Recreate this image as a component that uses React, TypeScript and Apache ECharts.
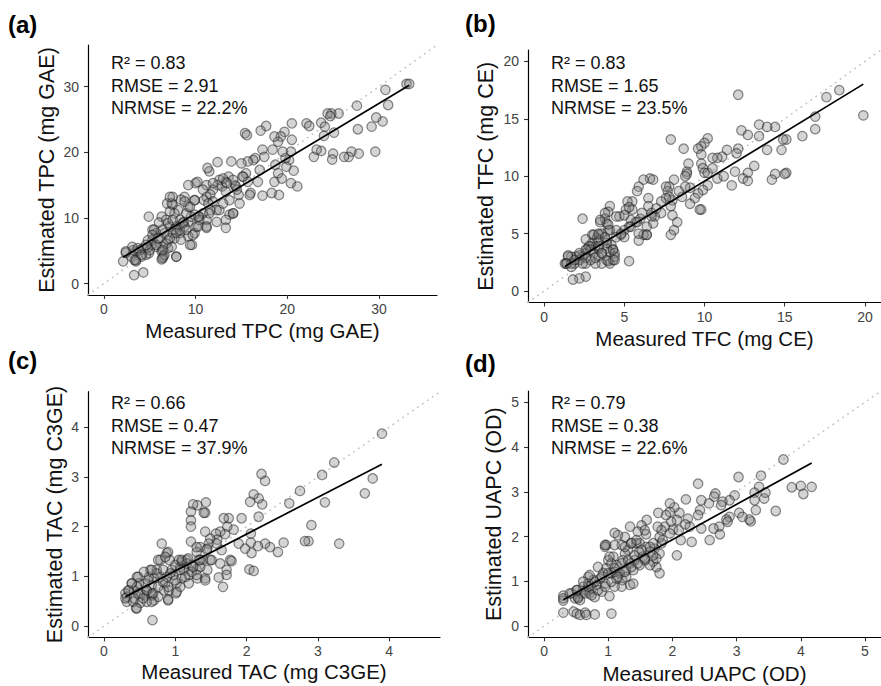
import { useEffect, useRef } from "react";
import * as echarts from "echarts";

// ---------- DATA ----------
const tpcPoints: number[][] = [
  [33.0,30.4],[33.3,30.4],[30.7,29.5],[31.0,27.2],[30.4,24.7],[29.7,25.3],[29.2,23.9],[29.6,20.1],[27.7,23.5],[27.6,27.1],
  [27.8,19.8],[27.0,20.1],[26.7,19.3],[26.2,19.3],[25.6,25.9],[24.8,25.9],[24.4,25.9],[24.7,25.5],[23.7,24.5],[24.1,23.9],
  [25.1,23.0],[24.0,22.5],[25.0,19.8],[24.9,18.9],[23.7,20.2],[22.9,19.3],[23.2,20.4],[22.1,24.4],[22.4,24.0],[20.5,24.4],
  [20.5,21.9],[20.4,20.1],[20.2,18.8],[20.4,15.3],[21.1,14.8],[20.7,17.2],[19.9,17.8],[19.8,19.1],[19.5,20.1],[19.7,23.1],
  [19.3,22.4],[19.0,21.6],[18.6,22.4],[18.4,20.4],[18.7,18.1],[19.0,16.8],[18.6,15.5],[19.4,16.0],[19.1,13.5],[18.3,13.8],
  [17.7,24.0],[17.1,23.3],[17.3,20.4],[17.5,19.3],[17.0,17.3],[16.5,19.1],[16.3,18.8],[16.8,15.5],[17.3,13.4],[15.4,22.9],
  [15.6,22.6],[15.7,18.6],[15.0,18.3],[15.5,16.8],[15.1,16.3],[15.7,15.5],[16.0,13.8],[14.7,13.5],[14.8,12.2],[13.9,18.6],
  [12.4,18.5],[14.3,15.0],[13.6,16.3],[13.3,15.5],[12.9,14.8],[13.3,14.0],[13.7,12.7],[14.1,10.7],[13.7,10.5],[13.3,9.7],
  [13.3,8.5],[12.6,15.8],[12.4,15.0],[11.9,14.3],[11.5,17.1],[11.3,17.6],[11.2,15.0],[11.6,13.6],[11.2,13.2],[10.9,12.7],
  [11.9,12.5],[12.3,11.2],[11.6,11.2],[11.2,9.7],[11.2,8.5],[10.8,10.7],[10.4,10.2],[10.0,15.3],[10.2,15.5],[9.9,12.7],
  [9.9,10.5],[9.2,15.0],[9.9,7.7],[9.2,7.2],[8.8,13.2],[8.4,12.8],[8.1,11.2],[7.5,13.2],[7.5,12.0],[7.7,10.7],
  [8.3,9.7],[8.7,9.4],[9.2,9.4],[9.6,5.9],[6.9,12.2],[7.2,11.0],[6.3,10.2],[6.0,9.3],[6.8,9.7],[7.2,8.7],
  [7.9,8.7],[7.5,7.7],[8.3,7.7],[7.7,6.9],[7.0,6.6],[7.9,4.1],[6.6,7.7],[5.7,7.7],[6.1,6.9],[5.3,8.2],
  [5.3,6.6],[6.4,5.6],[5.7,5.6],[6.3,4.9],[6.5,4.1],[6.3,3.7],[6.6,4.4],[4.9,10.2],[4.8,6.6],[5.2,5.9],
  [4.9,4.6],[4.3,5.4],[4.6,4.4],[4.1,4.1],[3.9,5.1],[3.5,4.9],[3.2,5.1],[3.0,4.1],[2.4,4.7],[2.1,3.4],
  [3.5,3.6],[3.5,3.4],[3.3,1.3],[4.3,1.7],[3.1,5.6],[4.8,5.5],[7.0,5.4],[6.8,6.1],[7.7,8.2],[8.3,8.2],
  [8.8,8.7],[10.1,8.7],[10.4,9.7],[9.5,10.2],[9.0,10.7],[9.2,11.7],[10.8,14.3],[13.0,16.0],[14.1,15.8],[14.4,14.8],
  [2.4,4.9],[3.35,3.6],[4.1,4.4],[5.0,5.1],[5.7,5.9],[6.4,3.9],[6.4,5.1],[7.4,5.6],[7.9,4.1],[7.2,6.9],
  [7.9,7.7],[8.4,6.7],[9.0,8.2],[9.7,7.4],[9.4,5.9],[6.4,8.2],[5.5,8.2],[5.3,7.4],[5.9,6.9],[7.0,9.2],
  [7.5,9.7],[8.6,9.2],[10.3,8.7],[7.4,12.2],[7.2,13.2],[8.8,12.5],[9.9,12.7],[11.4,12.2],[11.5,10.7],[12.6,11.2],
  [11.2,8.7],[12.3,9.4],[9.4,11.7],[10.3,10.2],[13.4,15.3],[14.5,14.3],[15.2,16.3],[11.9,15.3],[13.0,12.2],[14.1,10.7],
  [15.9,13.5],[4.6,5.9],[3.7,5.4],
];

const tfcPoints: number[][] = [
  [19.9,15.3],[18.4,17.5],[17.6,16.9],[16.9,15.2],[16.9,14.1],[16.1,13.5],[12.1,17.1],[15.1,13.2],[14.9,13.2],[14.8,12.3],
  [15.1,10.3],[15.0,10.2],[14.4,10.2],[14.2,9.7],[14.4,14.3],[13.9,14.3],[13.4,14.5],[13.4,13.5],[13.9,12.3],[13.1,10.9],
  [12.7,13.6],[12.3,14.0],[12.1,12.4],[12.0,12.0],[11.9,10.4],[11.7,9.2],[11.4,12.3],[12.7,10.3],[12.4,9.8],[12.7,9.6],
  [11.1,11.7],[10.8,11.6],[10.5,11.6],[10.2,13.3],[10.0,12.9],[9.8,12.6],[9.6,12.4],[9.8,11.9],[9.8,11.1],[9.9,10.7],
  [10.0,10.3],[10.2,10.3],[10.5,10.7],[10.8,9.8],[11.2,10.0],[10.2,9.2],[9.9,8.8],[9.6,8.5],[9.8,7.1],[9.7,7.1],
  [9.4,8.1],[9.0,11.1],[8.9,10.4],[8.9,10.2],[8.8,10.0],[8.7,12.4],[9.1,9.0],[8.8,9.1],[9.1,7.6],[8.6,8.2],
  [8.4,8.7],[7.9,13.2],[8.1,9.7],[7.8,9.1],[7.7,8.7],[7.8,8.2],[8.0,7.9],[7.9,7.4],[8.0,6.6],[8.1,5.3],
  [7.9,4.9],[8.3,6.0],[7.6,9.1],[7.6,8.1],[7.3,7.8],[7.3,6.8],[6.8,9.7],[6.6,9.8],[6.2,9.7],[5.9,9.1],
  [5.8,8.7],[6.5,8.1],[6.5,7.4],[6.7,6.8],[6.9,6.5],[6.8,5.9],[6.4,5.6],[6.4,4.9],[6.2,4.9],[5.9,4.4],
  [6.0,6.3],[5.7,6.0],[5.5,7.8],[5.5,7.1],[5.2,7.8],[5.1,7.1],[5.4,6.2],[5.3,5.6],[5.0,5.3],[4.7,6.5],
  [4.8,4.9],[5.0,4.7],[4.5,5.3],[5.3,2.6],[4.1,7.4],[4.0,6.9],[3.8,6.3],[3.5,6.0],[3.9,5.9],[4.0,5.3],
  [3.6,5.0],[3.4,4.9],[3.0,4.9],[3.3,4.6],[3.9,4.4],[4.2,4.0],[4.3,3.6],[4.1,3.4],[4.4,3.3],[3.9,3.7],
  [3.6,3.3],[3.4,3.7],[3.2,3.9],[2.9,3.9],[2.7,3.7],[2.6,3.3],[3.1,3.3],[3.4,3.0],[3.9,2.7],[4.1,2.4],
  [3.6,2.4],[3.2,2.4],[2.9,2.7],[2.4,3.0],[2.2,3.1],[2.4,6.3],[2.0,3.0],[2.2,2.7],[1.9,2.4],[1.7,3.0],
  [1.5,3.0],[1.4,2.4],[1.3,2.4],[1.7,2.4],[2.6,2.4],[4.3,2.7],[4.4,3.0],[2.6,1.25],[2.2,1.1],[1.8,1.0],
  [3.0,4.2],[3.4,4.4],[2.6,4.5],[2.8,3.9],
  [1.4,2.4],[1.5,3.1],[1.9,2.7],[2.2,3.3],[2.6,2.9],[2.4,2.4],[2.9,3.6],[3.2,2.9],[3.4,3.9],[3.6,3.3],
  [4.0,2.6],[3.9,4.2],[4.3,3.6],[4.4,2.7],[3.1,4.9],[3.4,5.0],[3.8,4.7],[4.1,5.3],[4.5,4.7],[4.8,5.0],
  [3.5,6.2],[4.0,5.8],[3.8,6.8],[5.0,6.6],[5.4,5.6],[5.9,5.0],[5.8,6.0],[6.4,4.9],[6.1,6.8],[6.7,6.5],
  [7.0,7.2],[5.3,7.3],[4.5,6.5],[2.6,3.6],[1.7,2.1],
];

const tacPoints: number[][] = [
  [3.90,3.87],[3.23,3.29],[3.06,3.04],[3.10,2.49],[3.77,2.97],[3.66,2.67],[2.91,2.03],[3.30,1.66],[2.87,1.71],[2.82,1.71],
  [2.75,2.72],[2.60,2.47],[2.52,1.68],[2.44,1.49],[2.33,1.59],[2.26,1.66],[2.16,1.61],[2.17,2.20],[2.22,2.45],[2.17,2.57],
  [2.10,2.65],[2.05,2.50],[2.21,3.06],[2.26,2.92],[2.06,1.86],[2.06,1.68],[2.07,1.47],[1.98,1.56],[1.89,1.66],[1.93,2.17],
  [2.04,1.14],[2.10,1.11],[1.82,1.94],[1.75,2.17],[1.68,2.17],[1.73,2.00],[1.70,1.85],[1.63,1.90],[1.57,1.86],[1.59,1.74],
  [1.49,1.76],[1.47,1.66],[1.43,2.49],[1.42,2.28],[1.40,2.28],[1.31,2.43],[1.25,2.45],[1.22,2.30],[1.22,2.13],[1.22,2.00],
  [1.22,1.70],[1.42,1.90],[1.45,1.56],[1.35,1.59],[1.30,1.49],[1.39,1.33],[1.49,1.33],[1.33,1.33],[1.65,1.53],[1.77,1.33],
  [1.79,1.31],[1.63,1.26],[1.72,1.13],[1.72,1.03],[1.61,0.98],[1.67,0.79],[1.42,0.96],[1.31,0.96],[1.30,1.14],[1.23,1.23],
  [1.16,1.33],[1.09,1.29],[1.05,1.33],[1.07,1.19],[1.12,1.13],[1.19,1.03],[1.09,0.96],[1.02,0.86],[1.01,0.66],[0.95,1.13],
  [0.92,1.33],[0.88,1.47],[0.90,1.49],[0.81,1.66],[0.79,1.33],[0.74,1.13],[0.79,0.99],[0.86,0.86],[0.84,0.72],[0.90,0.54],
  [0.70,0.96],[0.67,0.82],[0.63,0.99],[0.58,0.86],[0.60,0.72],[0.67,0.66],[0.70,0.52],[0.67,0.62],[0.56,0.62],[0.51,0.66],
  [0.46,0.99],[0.49,0.86],[0.42,0.72],[0.35,0.72],[0.32,0.59],[0.30,0.66],[0.32,0.49],[0.45,0.36],[0.42,0.56],[0.51,0.47],
  [0.60,0.49],[0.68,0.12],[0.76,0.59],[0.91,0.72],[0.97,1.03],[1.07,0.79],[1.19,0.86],[1.23,1.09],[1.35,1.19],[1.45,1.13],
  [1.51,1.33],[1.16,1.26],[1.00,1.23],[0.65,1.13],[0.56,1.09],[0.39,0.86],[0.46,0.79],[0.88,0.99],[1.44,1.54],[1.58,1.66],
  [1.30,1.59],
  [0.30,0.56],[0.34,0.72],[0.41,0.49],[0.48,0.66],[0.46,0.36],[0.55,0.56],[0.60,0.72],[0.67,0.49],[0.69,0.66],[0.76,0.79],
  [0.62,0.92],[0.48,0.99],[0.74,1.06],[0.83,0.89],[0.90,0.79],[0.83,1.13],[0.93,1.06],[1.00,0.92],[1.02,0.69],[0.90,0.52],
  [1.07,1.13],[1.14,0.99],[1.09,1.33],[1.18,1.36],[1.25,1.19],[1.35,1.33],[1.30,1.03],[0.76,1.33],[0.67,1.13],[0.39,0.86],
  [0.86,1.39],[1.42,0.92],
];

const uapcPoints: number[][] = [
  [3.73,3.72],[4.17,3.11],[4.00,3.13],[4.04,2.95],[3.86,3.10],[3.61,2.57],[3.38,3.36],[3.35,3.11],[3.43,2.85],[3.45,2.98],
  [3.28,2.98],[3.28,2.81],[3.30,2.59],[3.22,2.34],[3.20,2.38],[3.03,3.33],[2.97,2.92],[2.89,2.81],[3.04,2.53],[3.09,2.44],
  [2.89,2.44],[2.84,2.38],[2.86,2.33],[2.78,2.78],[2.76,2.70],[2.67,2.96],[2.65,2.89],[2.73,2.22],[2.74,2.05],[2.64,2.18],
  [2.58,1.92],[2.57,2.74],[2.45,2.81],[2.40,3.18],[2.43,2.59],[2.45,2.18],[2.40,2.48],[2.30,1.88],[2.21,2.83],[2.24,2.40],
  [2.27,2.22],[2.11,2.53],[2.07,2.37],[2.03,2.65],[1.96,2.55],[1.98,2.33],[2.01,2.16],[2.10,2.14],[2.07,1.58],[2.13,1.92],
  [1.96,2.07],[1.88,2.22],[1.90,2.48],[1.83,2.14],[1.83,1.85],[1.78,2.53],[1.80,1.99],[1.72,1.73],[1.80,1.62],[1.80,1.18],
  [1.75,1.32],[1.70,1.44],[1.65,1.36],[1.59,2.05],[1.60,2.37],[1.52,2.25],[1.46,2.11],[1.44,1.85],[1.48,1.66],[1.54,1.55],
  [1.57,1.47],[1.49,1.36],[1.41,1.47],[1.34,2.22],[1.36,1.85],[1.31,1.70],[1.26,1.99],[1.21,1.81],[1.26,1.62],[1.34,1.40],
  [1.28,1.25],[1.23,1.47],[1.15,2.03],[1.10,2.08],[1.08,1.55],[1.13,1.36],[1.18,1.18],[1.22,1.03],[1.34,0.92],[1.21,0.88],
  [1.10,0.88],[1.02,0.67],[1.05,0.28],[0.97,1.81],[0.95,1.77],[1.00,1.47],[0.97,1.29],[0.92,1.18],[0.84,1.32],[0.87,1.06],
  [0.95,0.95],[0.82,0.92],[0.77,1.03],[0.74,0.84],[0.69,0.95],[0.66,0.80],[0.61,0.88],[0.58,0.73],[0.51,0.80],[0.53,0.65],
  [0.48,0.62],[0.56,0.58],[0.43,0.73],[0.30,0.68],[0.30,0.57],[0.30,0.30],[0.46,0.32],[0.51,0.28],[0.56,0.25],[0.64,0.30],
  [0.66,0.25],[0.79,0.26],[0.71,0.73],[0.79,0.65],[0.69,1.10],[0.90,0.77],[1.13,1.06],[1.05,1.18],[1.05,1.40],[1.10,1.21],
  [1.28,1.10],[1.39,1.25],[1.39,0.95],[1.59,1.77],[1.70,1.85],[1.49,1.85],[1.65,1.66],[1.75,1.51],[1.96,2.74],[2.20,2.27],
  [0.30,0.62],[0.40,0.73],[0.51,0.80],[0.53,0.62],[0.64,0.73],[0.69,0.88],[0.74,0.69],[0.79,0.99],[0.84,0.80],[0.90,1.10],
  [0.95,0.88],[1.00,1.18],[1.05,0.99],[1.10,1.29],[1.15,1.10],[1.21,1.40],[1.26,1.21],[1.31,1.47],[1.36,1.32],[1.41,1.58],
  [1.46,1.40],[1.52,1.70],[1.57,1.51],[1.65,1.77],[1.70,1.58],[1.26,1.77],[1.36,1.85],[1.44,1.92],[1.10,1.81],[0.95,1.81],
  [1.02,1.55],[0.71,1.14],[0.61,0.99],[1.57,2.14],[1.77,2.22],[1.85,1.92],
];

const panelTags = ["(a)", "(b)", "(c)", "(d)"];
const xTitles = ["Measured TPC (mg GAE)", "Measured TFC (mg CE)", "Measured TAC (mg C3GE)", "Measured UAPC (OD)"];
const yTitles = ["Estimated TPC (mg GAE)", "Estimated TFC (mg CE)", "Estimated TAC (mg C3GE)", "Estimated UAPC (OD)"];
const r2Values = ["0.83", "0.83", "0.66", "0.79"];
const rmseValues = ["2.91", "1.65", "0.47", "0.38"];
const nrmseValues = ["22.2%", "23.5%", "37.9%", "22.6%"];
const axisLimits = [[0, 34.6], [0, 20], [0, 4.49], [0, 5]];
const tickValues = [[0, 10, 20, 30], [0, 5, 10, 15, 20], [0, 1, 2, 3, 4], [0, 1, 2, 3, 4, 5]];
const fitSlopes = [0.839, 0.854, 0.741, 0.79];
const fitIntercepts = [2.27, 1.03, 0.368, 0.35];

const allPoints = [tpcPoints, tfcPoints, tacPoints, uapcPoints];

// ---------- LAYOUT ----------
const grids = [
  { left: 88, top: 45, width: 349, height: 250 },
  { left: 528, top: 50, width: 356, height: 252.5 },
  { left: 88, top: 391.7, width: 352, height: 245.6 },
  { left: 528, top: 391, width: 354, height: 246.3 },
];
const xNameGaps = [24.5, 25, 24, 25.5];
const yNameGaps = [30, 31, 22, 23.5];
const tagPos = [[8, 26], [465, 25], [8, 362], [465, 365]];
const annoPos = [[111, 63], [551, 63], [111, 403], [551, 403]];

const FONT = "'Liberation Sans', Arial, Helvetica, sans-serif";

export default function App() {
  const ref = useRef<HTMLDivElement>(null);
  useEffect(() => {
    document.body.style.margin = "0";
    if (!ref.current) return;
    const chart = echarts.init(ref.current, null, { renderer: "svg" });

    const xAxis: any[] = [];
    const yAxis: any[] = [];
    const series: any[] = [];
    const graphic: any[] = [];

    allPoints.forEach((pts, i) => {
      const [lo, hi] = axisLimits[i];
      const pad = (hi - lo) * 0.05;
      const min = lo - pad;
      const max = hi + pad;
      const common = {
        gridIndex: i,
        type: "value",
        min,
        max,
        nameLocation: "middle",
        nameMoveOverlap: false,
        splitLine: { show: false },
        axisLine: { show: true, onZero: false, lineStyle: { color: "#000", width: 1.2 } },
        axisTick: { show: true, length: 4, lineStyle: { color: "#333", width: 1.1 }, customValues: tickValues[i] },
        axisLabel: { color: "#444", fontSize: 14, fontFamily: FONT, customValues: tickValues[i] },
      };
      xAxis.push({
        ...common,
        name: xTitles[i],
        nameGap: xNameGaps[i],
        nameTextStyle: { color: "#111", fontSize: 20.5, fontFamily: FONT },
        axisLabel: { ...common.axisLabel, margin: 7 },
      });
      yAxis.push({
        ...common,
        name: yTitles[i],
        nameGap: yNameGaps[i],
        nameTextStyle: { color: "#111", fontSize: 21.5, fontFamily: FONT },
        axisLabel: { ...common.axisLabel, margin: 9 },
      });

      series.push({
        type: "line",
        xAxisIndex: i,
        yAxisIndex: i,
        data: [[min, min], [max, max]],
        symbol: "none",
        silent: true,
        lineStyle: { color: "#c4c4c4", width: 1.6, type: [0.5, 5.5], cap: "round" },
        z: 1,
      });
      series.push({
        type: "scatter",
        xAxisIndex: i,
        yAxisIndex: i,
        data: pts,
        symbol: "circle",
        symbolSize: 9.5,
        itemStyle: { color: "rgba(128,128,128,0.42)", borderColor: "rgba(25,25,25,0.62)", borderWidth: 1.25 },
        z: 2,
      });
      const xs = pts.map((p) => p[0]);
      const x0 = Math.min(...xs);
      const x1 = Math.max(...xs);
      series.push({
        type: "line",
        xAxisIndex: i,
        yAxisIndex: i,
        data: [
          [x0, fitIntercepts[i] + fitSlopes[i] * x0],
          [x1, fitIntercepts[i] + fitSlopes[i] * x1],
        ],
        symbol: "none",
        lineStyle: { color: "#000", width: 1.7 },
        z: 3,
      });

      graphic.push({
        type: "text",
        left: tagPos[i][0],
        top: tagPos[i][1] - 14,
        style: { text: panelTags[i], font: `bold 24px ${FONT}`, fill: "#000" },
      });
      const lines = [`R² = ${r2Values[i]}`, `RMSE = ${rmseValues[i]}`, `NRMSE = ${nrmseValues[i]}`];
      lines.forEach((t, k) => {
        graphic.push({
          type: "text",
          x: annoPos[i][0],
          y: annoPos[i][1] + k * 22.5,
          style: { text: t, font: `18px ${FONT}`, fill: "#111", textVerticalAlign: "middle", verticalAlign: "middle" },
        });
      });
    });

    chart.setOption({
      animation: false,
      backgroundColor: "#fff",
      grid: grids.map((g) => ({ ...g, containLabel: false })),
      xAxis,
      yAxis,
      series,
      graphic,
    });
    return () => chart.dispose();
  }, []);
  return <div ref={ref} style={{ width: 881, height: 686 }} />;
}
